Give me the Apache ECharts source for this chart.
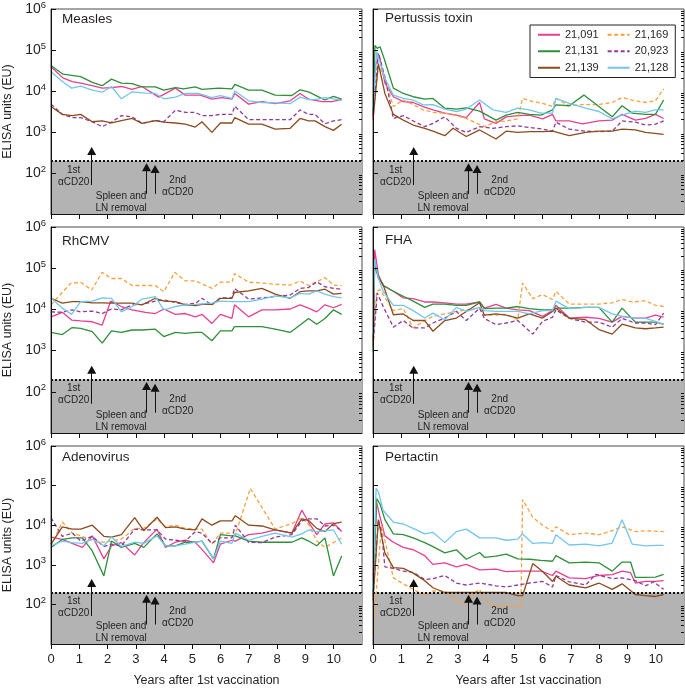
<!DOCTYPE html>
<html>
<head>
<meta charset="utf-8">
<script src="https://cdn.jsdelivr.net/npm/echarts@6/dist/echarts.min.js"></script>
<style>
  html, body { margin: 0; padding: 0; background: #fff; }
  #chart { width: 685px; height: 688px; }
</style>
</head>
<body>
<div id="chart"></div>
<script>
// donors, in legend order
const donors = ['21,091', '21,169', '21,131', '20,923', '21,139', '21,128'];
const donorColors = ['#e8408e', '#f5a342', '#2f8f3a', '#8e3b99', '#8b4b1f', '#72c6ee'];
const dashedDonors = ['21,169', '20,923'];

const panelNames = ['Measles', 'Pertussis toxin', 'RhCMV', 'FHA', 'Adenovirus', 'Pertactin'];
const yearTicks = [0, 1, 2, 3, 4, 5, 6, 7, 8, 9, 10];
const decadeTicks = [10, 100, 1000, 10000, 100000, 1000000];

// values: [years after 1st vaccination, log10 ELISA units]
const measles = {
  '21,091': [[0,4.59],[0.42,4.32],[0.75,4.23],[1.05,4.19],[1.46,4.13],[1.81,4.07],[2.14,4.08],[2.49,4.11],[2.87,4.04],[3.22,4.11],[3.81,3.85],[4.4,4.07],[4.75,3.9],[5.28,3.9],[5.69,3.8],[6.05,3.84],[6.4,3.8],[6.5,3.94],[6.99,3.68],[7.46,3.74],[7.93,3.69],[8.46,3.76],[8.81,3.94],[9.11,3.8],[9.58,3.74],[9.93,3.74],[10.28,3.79]],
  '21,131': [[0,4.62],[0.42,4.41],[1.05,4.35],[1.46,4.21],[1.81,4.13],[2.14,4.29],[2.49,4.19],[2.87,4.18],[3.22,4.1],[3.69,4.1],[3.99,4.02],[4.4,4.08],[4.69,4.05],[5.1,4.1],[5.34,4.04],[5.93,4.07],[6.4,4.05],[6.5,4.16],[6.99,4.02],[7.46,4.02],[7.93,3.9],[8.52,3.89],[8.81,4.03],[9.11,3.98],[9.34,3.9],[9.69,3.78],[9.99,3.87],[10.28,3.8]],
  '20,923': [[0,3.68],[0.4,3.43],[0.75,3.35],[1.05,3.35],[1.46,3.25],[1.81,3.13],[2.14,3.24],[2.49,3.4],[2.87,3.37],[3.22,3.21],[3.69,3.28],[3.99,3.25],[4.4,3.53],[4.75,3.48],[5.1,3.48],[5.34,3.4],[5.69,3.4],[5.99,3.43],[6.4,3.43],[6.5,3.63],[6.99,3.3],[7.46,3.3],[7.93,3.3],[8.46,3.3],[8.81,3.54],[9.11,3.43],[9.34,3.43],[9.69,3.2],[9.99,3.27],[10.28,3.3]],
  '21,139': [[0,3.62],[0.4,3.43],[0.75,3.4],[1.05,3.43],[1.46,3.25],[1.81,3.27],[2.14,3.22],[2.49,3.28],[2.87,3.33],[3.22,3.21],[3.69,3.28],[3.99,3.24],[4.4,3.22],[4.75,3.19],[5.1,3.12],[5.34,3.25],[5.69,2.99],[5.99,3.22],[6.4,3.22],[6.5,3.35],[6.99,3.19],[7.46,3.19],[7.93,3.07],[8.46,3.09],[8.81,3.33],[9.11,3.27],[9.34,3.27],[9.69,3.13],[9.99,3.04],[10.28,3.19]],
  '21,128': [[0,4.47],[0.4,4.23],[0.73,4.07],[1.05,4.12],[1.46,4.02],[1.81,3.97],[2.14,4.11],[2.49,3.81],[2.87,3.98],[3.34,3.95],[3.69,3.94],[3.99,3.81],[4.4,3.85],[4.75,3.94],[5.22,3.94],[5.69,3.84],[5.99,3.89],[6.4,3.82],[6.5,4.0],[6.99,3.76],[7.46,3.72],[7.93,3.71],[8.46,3.69],[8.81,3.85],[9.11,3.79],[9.34,3.79],[9.69,3.84],[9.99,3.81],[10.28,3.77]]
};

const pertussisToxin = {
  '21,091': [[0,3.4],[0.07,4.6],[0.22,4.88],[0.42,4.2],[0.72,3.86],[1.07,3.74],[1.42,3.72],[1.77,3.62],[2.12,3.54],[2.54,3.46],[2.95,3.41],[3.3,3.35],[3.77,3.72],[3.94,3.32],[4.35,3.21],[4.71,3.37],[5.12,3.4],[5.53,3.41],[6.0,3.32],[6.35,3.43],[6.47,3.27],[6.94,3.27],[7.41,3.2],[7.99,3.27],[8.46,3.29],[8.81,3.43],[9.28,3.29],[9.64,3.33],[9.99,3.43],[10.28,3.33]],
  '21,169': [[0,3.3],[0.19,4.63],[0.42,4.31],[0.72,3.62],[1.07,3.78],[1.42,3.67],[1.77,3.54],[2.12,3.48],[2.54,3.46],[2.95,3.4],[3.3,3.33],[3.94,3.13],[4.35,3.25],[4.71,3.27],[5.12,3.32],[5.29,3.82],[5.65,3.74],[6.0,3.7],[6.35,3.62],[6.47,3.82],[6.94,3.64],[7.41,3.67],[7.99,3.67],[8.46,3.72],[8.81,3.84],[9.17,3.78],[9.64,3.72],[9.99,3.76],[10.28,4.05]],
  '21,131': [[0,3.5],[0.07,5.11],[0.15,5.04],[0.25,5.08],[0.39,4.8],[0.72,4.07],[1.07,3.94],[1.42,3.86],[1.83,3.8],[2.12,3.82],[2.54,3.58],[2.95,3.56],[3.3,3.59],[3.77,3.51],[4.35,3.29],[4.71,3.41],[5.12,3.48],[5.53,3.43],[5.94,3.41],[6.35,3.54],[6.47,3.66],[6.94,3.64],[7.46,3.9],[7.99,3.62],[8.46,3.37],[8.81,3.64],[9.17,3.46],[9.64,3.43],[9.99,3.43],[10.28,3.78]],
  '20,923': [[0,3.4],[0.19,4.92],[0.42,4.35],[0.72,3.33],[1.07,3.4],[1.42,3.27],[1.83,3.13],[2.12,3.21],[2.54,3.37],[2.95,3.09],[3.3,2.99],[3.77,3.13],[4.24,3.09],[4.71,3.13],[5.12,3.15],[5.53,3.11],[6.0,3.07],[6.35,3.02],[6.47,3.24],[6.94,3.07],[7.52,3.02],[7.99,3.01],[8.46,3.02],[8.81,3.27],[9.28,3.24],[9.64,3.17],[9.99,3.19],[10.28,3.27]],
  '21,139': [[0,3.3],[0.19,4.67],[0.42,3.94],[0.72,3.43],[1.07,3.29],[1.42,3.17],[1.83,3.09],[2.12,3.02],[2.54,2.91],[2.83,3.09],[3.3,2.89],[3.77,3.05],[4.35,2.83],[4.71,3.02],[5.12,2.99],[5.53,3.01],[6.0,3.01],[6.35,3.02],[6.94,2.91],[7.52,2.99],[7.99,3.02],[8.46,3.02],[8.81,3.07],[9.28,3.05],[9.64,2.99],[10.28,2.94]],
  '21,128': [[0,3.6],[0.13,4.96],[0.42,4.31],[0.72,3.9],[1.07,3.82],[1.42,3.78],[1.77,3.66],[2.12,3.67],[2.54,3.56],[2.95,3.5],[3.3,3.56],[3.77,3.78],[4.24,3.54],[4.71,3.48],[5.12,3.58],[5.53,3.54],[5.94,3.46],[6.35,3.46],[6.47,3.82],[6.94,3.7],[7.52,3.58],[7.99,3.5],[8.46,3.32],[8.81,3.41],[9.28,3.51],[9.64,3.48],[9.99,3.54],[10.28,3.54]]
};

const rhcmv = {
  '21,091': [[0,3.82],[0.4,3.93],[0.73,3.74],[1.05,3.72],[1.46,3.7],[1.81,3.62],[2.11,4.2],[2.49,4.07],[2.87,3.99],[3.34,3.93],[3.69,3.9],[3.99,4.01],[4.4,3.88],[4.75,3.9],[5.11,3.82],[5.34,3.88],[5.69,3.66],[5.99,3.88],[6.4,3.78],[6.49,4.11],[6.99,3.82],[7.46,3.99],[7.93,3.99],[8.46,4.01],[8.81,4.11],[9.11,4.03],[9.4,3.94],[9.69,4.11],[9.99,4.04],[10.28,4.12]],
  '21,169': [[0,4.11],[0.69,4.63],[1.05,4.66],[1.44,4.47],[1.81,4.9],[2.14,4.75],[2.49,4.75],[2.87,4.58],[3.34,4.58],[3.69,4.58],[3.99,4.43],[4.38,4.9],[4.75,4.69],[5.11,4.69],[5.69,4.51],[5.99,4.66],[6.4,4.66],[6.49,4.87],[6.99,4.66],[7.46,4.64],[7.93,4.61],[8.46,4.59],[8.81,4.69],[9.11,4.58],[9.4,4.67],[9.69,4.77],[9.99,4.59],[10.28,4.58]],
  '21,131': [[0,3.44],[0.4,3.39],[0.75,3.56],[1.05,3.54],[1.46,3.46],[1.81,3.18],[2.14,3.48],[2.49,3.44],[2.87,3.5],[3.22,3.5],[3.69,3.52],[3.99,3.34],[4.4,3.44],[4.75,3.42],[5.11,3.44],[5.34,3.44],[5.69,3.24],[5.99,3.48],[6.4,3.48],[6.49,3.58],[6.99,3.58],[7.46,3.58],[7.93,3.52],[8.46,3.44],[8.81,3.62],[9.11,3.78],[9.4,3.64],[9.69,3.78],[9.99,3.99],[10.28,3.88]],
  '20,923': [[0,3.94],[0.4,3.93],[0.75,3.99],[1.05,3.94],[1.46,3.96],[1.81,3.9],[2.14,4.01],[2.49,3.99],[2.87,4.11],[3.22,4.12],[3.69,4.2],[3.99,4.23],[4.4,4.17],[4.75,4.12],[5.11,4.15],[5.34,4.27],[5.69,4.11],[5.99,4.28],[6.4,4.28],[6.49,4.51],[6.99,4.25],[7.46,4.28],[7.93,4.31],[8.46,4.35],[8.81,4.51],[9.11,4.53],[9.4,4.67],[9.69,4.55],[9.99,4.51],[10.28,4.49]],
  '21,139': [[0,4.27],[0.4,4.15],[0.75,4.19],[1.05,4.19],[1.46,4.16],[1.81,4.16],[2.14,4.15],[2.49,4.15],[2.87,4.15],[3.22,4.11],[3.69,4.27],[3.99,4.2],[4.4,4.19],[4.75,4.11],[5.11,4.09],[5.34,4.12],[5.69,4.12],[5.99,4.27],[6.4,4.27],[6.49,4.41],[6.99,4.45],[7.46,4.51],[7.93,4.37],[8.46,4.27],[8.81,4.43],[9.11,4.45],[9.4,4.45],[9.69,4.49],[9.99,4.37],[10.28,4.39]],
  '21,128': [[0,4.28],[0.4,4.03],[0.73,3.88],[1.05,4.19],[1.46,4.2],[1.81,4.28],[2.14,4.27],[2.49,3.94],[2.87,4.07],[3.22,4.25],[3.69,4.31],[3.99,3.99],[4.4,4.07],[4.75,4.11],[5.11,4.12],[5.69,4.15],[5.99,4.2],[6.4,4.19],[6.99,4.19],[7.46,4.25],[7.93,4.33],[8.46,4.28],[8.81,4.39],[9.11,4.37],[9.4,4.45],[9.69,4.37],[9.99,4.31],[10.28,4.28]]
};

const fha = {
  '21,091': [[0,3.3],[0.06,5.45],[0.19,4.84],[0.36,4.58],[0.72,4.44],[1.07,4.28],[1.42,4.26],[1.83,4.18],[2.12,4.18],[2.54,4.16],[2.95,4.13],[3.3,4.13],[3.77,4.18],[3.94,4.03],[4.35,4.12],[4.71,4.03],[5.12,3.99],[5.53,3.97],[6.0,3.83],[6.35,3.97],[6.47,4.1],[6.94,3.79],[7.52,3.81],[7.99,3.78],[8.46,3.69],[8.81,3.83],[9.28,3.79],[9.64,3.79],[9.99,3.86],[10.28,3.81]],
  '21,169': [[0,3.2],[0.13,4.44],[0.25,4.48],[0.36,4.36],[0.72,3.97],[1.07,4.02],[1.42,3.55],[1.83,3.73],[2.12,3.83],[2.54,3.89],[2.95,3.95],[3.3,3.99],[3.77,4.03],[3.94,3.86],[4.35,3.86],[4.71,3.88],[5.12,3.75],[5.29,4.64],[5.65,4.26],[6.0,4.36],[6.35,4.24],[6.47,4.44],[6.94,4.13],[7.52,4.13],[7.99,4.13],[8.46,4.16],[8.81,4.24],[9.17,4.18],[9.64,4.21],[9.99,4.1],[10.28,4.07]],
  '21,131': [[0,2.97],[0.06,5.17],[0.19,4.8],[0.36,4.58],[0.72,4.44],[1.07,4.32],[1.42,4.2],[1.83,4.05],[2.12,4.13],[2.54,4.13],[2.95,4.1],[3.3,4.1],[3.77,4.18],[3.94,4.02],[4.35,4.03],[4.71,4.03],[5.12,4.07],[5.53,4.02],[6.0,3.99],[6.35,3.99],[6.47,4.03],[6.94,4.03],[7.52,4.05],[7.99,4.05],[8.46,3.69],[8.81,4.03],[9.28,3.69],[9.64,3.69],[9.99,3.69],[10.28,3.64]],
  '20,923': [[0,3.1],[0.15,4.4],[0.36,4.07],[0.72,3.57],[1.07,3.73],[1.42,3.55],[1.83,3.55],[2.12,3.67],[2.54,3.79],[2.95,3.95],[3.3,3.73],[3.77,4.03],[3.94,3.78],[4.35,3.63],[4.71,3.67],[5.12,3.73],[5.65,3.4],[6.0,3.71],[6.35,3.81],[6.47,3.99],[6.94,3.78],[7.52,3.69],[7.99,3.69],[8.46,3.57],[8.81,3.78],[9.28,3.67],[9.64,3.67],[9.99,3.63],[10.28,3.91]],
  '21,139': [[0,3.2],[0.06,5.09],[0.19,4.76],[0.36,4.6],[0.72,3.87],[1.07,3.89],[1.42,3.73],[1.83,3.73],[2.12,3.47],[2.54,3.73],[2.95,3.79],[3.3,3.95],[3.77,4.16],[3.94,3.86],[4.35,3.89],[4.71,3.86],[5.12,3.79],[5.53,3.89],[6.0,3.79],[6.35,3.95],[6.47,4.03],[6.94,3.79],[7.52,3.75],[7.99,3.51],[8.46,3.4],[8.81,3.64],[9.28,3.55],[9.64,3.53],[9.99,3.55],[10.28,3.57]],
  '21,128': [[0,3.4],[0.06,5.21],[0.19,4.76],[0.36,4.44],[0.72,4.1],[1.07,4.1],[1.42,3.97],[1.83,3.79],[2.12,3.91],[2.54,3.75],[2.95,4.05],[3.3,3.95],[3.77,4.05],[3.94,3.97],[4.35,3.95],[4.71,3.95],[5.12,3.95],[5.53,3.89],[6.0,3.97],[6.35,3.97],[6.47,4.2],[6.94,4.02],[7.52,4.05],[7.99,4.05],[8.46,3.89],[8.81,3.83],[9.28,3.79],[9.64,3.78],[9.99,3.71],[10.28,3.63]]
};

const adenovirus = {
  '21,091': [[0,3.7],[0.4,3.64],[0.75,3.54],[1.11,3.44],[1.46,3.73],[1.87,3.15],[2.14,3.48],[2.49,3.56],[2.96,3.25],[3.28,3.56],[3.75,3.9],[4.05,3.44],[4.4,3.57],[4.75,3.62],[5.11,3.56],[5.34,3.39],[5.75,3.05],[5.99,3.52],[6.4,3.62],[6.52,3.6],[6.99,3.76],[7.46,3.8],[7.93,3.88],[8.52,3.8],[8.87,4.38],[9.11,4.08],[9.4,3.76],[9.69,4.03],[9.99,4.06],[10.28,3.84]],
  '21,169': [[0,3.48],[0.4,4.08],[0.75,3.8],[1.05,3.73],[1.46,3.62],[1.87,3.57],[2.14,3.6],[2.49,3.65],[2.96,3.92],[3.28,3.92],[3.75,4.16],[4.05,3.96],[4.4,4.0],[4.75,3.92],[5.11,3.9],[5.34,3.9],[5.69,3.52],[5.99,3.8],[6.4,3.8],[6.52,3.76],[7.05,4.93],[7.46,4.45],[7.93,3.9],[8.52,4.04],[8.87,4.19],[9.11,4.02],[9.4,3.6],[9.69,3.44],[9.99,3.56],[10.28,3.68]],
  '21,131': [[0,3.44],[0.4,3.64],[0.75,3.68],[1.11,3.68],[1.46,3.35],[1.87,2.72],[2.14,3.6],[2.49,3.44],[2.96,3.54],[3.28,3.44],[3.75,3.78],[4.05,3.48],[4.4,3.48],[4.75,3.57],[5.11,3.57],[5.34,3.6],[5.75,3.15],[5.99,3.76],[6.4,3.73],[6.52,3.73],[6.99,3.6],[7.46,3.57],[7.93,3.57],[8.52,3.57],[8.87,3.68],[9.11,3.6],[9.4,3.48],[9.69,3.68],[9.99,2.72],[10.28,3.22]],
  '20,923': [[0,4.19],[0.4,3.72],[0.75,3.8],[1.05,3.6],[1.46,3.72],[1.87,3.46],[2.14,3.52],[2.49,3.48],[2.96,3.9],[3.28,3.88],[3.75,3.88],[4.05,3.65],[4.4,3.62],[4.75,3.6],[5.11,3.84],[5.34,3.8],[5.69,3.54],[5.99,3.68],[6.4,3.68],[6.52,4.0],[6.99,3.57],[7.46,3.56],[7.93,3.7],[8.52,3.76],[8.87,4.11],[9.11,4.16],[9.4,4.16],[9.69,3.98],[9.99,4.0],[10.28,3.86]],
  '21,139': [[0,3.52],[0.4,3.96],[0.75,3.9],[1.05,3.9],[1.46,4.0],[1.87,3.72],[2.14,3.7],[2.49,3.76],[2.96,4.19],[3.28,3.86],[3.75,4.2],[4.05,3.94],[4.4,3.96],[4.75,3.9],[5.11,3.88],[5.34,4.16],[5.69,4.0],[5.99,4.11],[6.4,4.11],[6.52,4.24],[6.99,4.0],[7.46,3.98],[7.93,3.88],[8.52,3.8],[8.87,4.16],[9.11,4.12],[9.4,3.92],[9.69,3.84],[9.99,4.04],[10.28,4.08]],
  '21,128': [[0,3.48],[0.4,3.6],[0.75,3.56],[1.11,3.54],[1.46,3.65],[1.87,3.48],[2.14,3.7],[2.49,3.46],[2.96,3.57],[3.28,3.54],[3.75,3.73],[4.05,3.48],[4.4,3.48],[4.75,3.52],[5.11,3.57],[5.34,3.6],[5.75,3.14],[5.99,3.6],[6.4,3.54],[6.52,3.8],[6.99,3.62],[7.46,3.72],[7.93,3.8],[8.52,3.7],[8.87,3.78],[9.11,3.88],[9.4,3.84],[9.69,3.86],[9.99,3.88],[10.28,3.52]]
};

const pertactin = {
  '21,091': [[0,2.6],[0.13,4.57],[0.25,4.2],[0.42,3.73],[0.72,3.57],[1.07,3.44],[1.42,3.38],[1.83,3.23],[2.12,3.01],[2.54,3.05],[2.95,2.95],[3.3,3.01],[3.77,2.87],[4.35,2.89],[4.71,2.83],[5.12,2.84],[5.53,2.84],[5.94,2.84],[6.35,2.73],[6.47,2.84],[6.94,2.67],[7.52,2.65],[7.99,2.73],[8.46,2.75],[8.81,2.84],[9.11,2.8],[9.28,2.54],[9.64,2.58],[9.99,2.58],[10.28,2.6]],
  '21,169': [[0,1.25],[0.3,4.0],[0.72,2.67],[1.07,2.52],[1.42,2.38],[1.83,2.22],[2.12,2.34],[2.54,2.33],[2.95,2.08],[3.3,2.02],[3.53,2.26],[3.77,2.38],[3.94,2.1],[4.35,1.95],[4.71,1.98],[5.12,1.94],[5.23,1.9],[5.29,4.65],[5.65,4.2],[6.0,4.0],[6.35,3.84],[6.47,3.96],[6.94,3.76],[7.52,3.8],[7.99,3.76],[8.46,3.86],[8.81,3.96],[9.28,3.84],[9.64,3.86],[10.28,3.84]],
  '21,131': [[0,2.3],[0.13,4.67],[0.25,4.53],[0.42,4.14],[0.72,3.78],[1.07,3.76],[1.42,3.68],[1.83,3.56],[2.12,3.46],[2.54,3.3],[2.95,3.38],[3.3,3.14],[3.77,3.31],[3.94,3.19],[4.35,3.22],[4.71,3.27],[5.12,3.15],[5.53,3.14],[5.94,3.11],[6.35,3.09],[6.47,3.23],[6.94,3.05],[7.52,3.07],[7.99,3.05],[8.46,2.84],[8.81,3.07],[9.11,3.07],[9.28,2.68],[9.64,2.68],[9.99,2.69],[10.28,2.76]],
  '20,923': [[0,2.2],[0.19,4.14],[0.31,3.8],[0.42,2.95],[0.72,2.91],[1.07,2.84],[1.42,2.81],[1.83,2.63],[2.12,2.65],[2.54,2.73],[2.95,2.54],[3.3,2.49],[3.77,2.54],[4.35,2.47],[4.71,2.44],[5.12,2.49],[5.53,2.54],[6.0,2.58],[6.35,2.44],[6.47,2.73],[6.94,2.57],[7.52,2.49],[7.88,2.76],[8.46,2.65],[8.81,2.67],[9.28,2.6],[9.64,2.47],[9.93,2.57],[10.28,2.38]],
  '21,139': [[0,2.1],[0.19,4.14],[0.42,3.3],[0.72,2.93],[1.07,2.91],[1.42,2.79],[1.83,2.6],[2.12,2.42],[2.54,2.3],[2.95,2.3],[3.3,2.3],[3.77,2.3],[4.35,2.3],[4.71,2.3],[5.12,2.22],[5.29,2.22],[5.65,3.03],[6.0,2.83],[6.35,2.58],[6.47,2.71],[6.94,2.49],[7.52,2.42],[7.99,2.54],[8.46,2.38],[8.81,2.52],[9.28,2.25],[9.64,2.22],[9.99,2.2],[10.28,2.25]],
  '21,128': [[0,2.4],[0.11,4.93],[0.19,4.85],[0.36,4.37],[0.72,4.08],[1.07,4.03],[1.42,3.92],[1.83,3.78],[2.12,3.82],[2.54,3.56],[2.95,3.84],[3.3,3.9],[3.77,3.68],[4.35,3.68],[4.71,3.62],[5.12,3.65],[5.29,3.78],[5.65,3.54],[6.0,3.56],[6.35,3.54],[6.47,3.76],[6.94,3.5],[7.52,3.52],[7.99,3.48],[8.46,3.55],[8.81,4.14],[9.17,3.52],[9.64,3.48],[9.99,3.49],[10.28,3.49]]
};

const panelData = [measles, pertussisToxin, rhcmv, fha, adenovirus, pertactin];

// annotation arrows [years, from EU, to EU] and notes [text, years, EU]
const arrows = [[1.44, 51, 345], [3.38, 31, 138], [3.68, 31, 126]];
const notes = [['1st\nαCD20', 0.8, 85], ['Spleen and\nLN removal', 2.48, 19.5], ['2nd\nαCD20', 4.48, 48]];
const limitOfDetection = 200;

const FONT = '"Liberation Sans", Arial, Helvetica, sans-serif';
const INK = '#231f20';

// panel boxes: left, top, width, height
const boxes = [[50, 9, 312, 205], [373, 9, 311, 205], [50, 227, 312, 206], [373, 227, 311, 206], [50, 446, 312, 206], [373, 446, 311, 206]];
const titlePos = [[62, 12], [385, 11], [62, 234], [385, 233], [62, 450], [385, 450]];

const minorTicks = [];
for (let d = 10; d < 1e6; d *= 10) for (let k = 2; k <= 9; k++) minorTicks.push(k * d);

const toEU = pts => pts.map(([t, lg]) => [t, Math.pow(10, lg)]);

const grids = [], xAxes = [], yAxes = [], minorAxes = [], titles = [], series = [];

boxes.forEach((b, i) => {
  const isLeft = i % 2 === 0;
  const isBottom = i >= 4;
  grids.push({ left: b[0], top: b[1], width: b[2], height: b[3], show: true, borderColor: '#4a4a4a', borderWidth: 1, backgroundColor: '#fff' });
  titles.push({ text: panelNames[i], left: titlePos[i][0], top: titlePos[i][1], padding: 0,
    textStyle: { fontFamily: FONT, fontSize: 13.5, fontWeight: 'normal', color: INK } });
  xAxes.push({
    gridIndex: i, type: 'value', min: 0, max: 11, interval: 1, z: 6,
    name: isBottom ? 'Years after 1st vaccination' : '', nameLocation: 'middle', nameGap: 30,
    nameTextStyle: { fontFamily: FONT, fontSize: 12.5, color: INK },
    axisLine: { show: true, onZero: false, lineStyle: { color: '#111', width: 1 } },
    axisTick: { show: true, inside: false, length: 5, customValues: yearTicks, lineStyle: { color: '#111' } },
    axisLabel: { show: isBottom, customValues: yearTicks, margin: 9, fontFamily: FONT, fontSize: 13, color: INK },
    splitLine: { show: false }
  });
  yAxes.push({
    gridIndex: i, type: 'log', logBase: 10, min: 10, max: 1e6, z: 6,
    name: isLeft ? 'ELISA units (EU)' : '', nameLocation: 'middle', nameGap: 37, nameRotate: 90,
    nameTextStyle: { fontFamily: FONT, fontSize: 12.5, color: INK },
    axisLine: { show: true, lineStyle: { color: '#111', width: 1 } },
    axisTick: { show: true, inside: true, length: 5, customValues: decadeTicks, lineStyle: { color: '#111' } },
    axisLabel: {
      show: isLeft, customValues: decadeTicks.slice(1), margin: 5,
      formatter: v => '{b|10}{s|' + Math.round(Math.log10(v)) + '}',
      rich: {
        b: { fontFamily: FONT, fontSize: 14, color: INK },
        s: { fontFamily: FONT, fontSize: 9.5, color: INK, padding: [0, 0, 8, 0] }
      }
    },
    splitLine: { show: false }
  });
  minorAxes.push({
    gridIndex: i, type: 'log', logBase: 10, min: 10, max: 1e6, z: 6,
    axisLine: { show: false },
    axisTick: { show: true, inside: true, length: 3, customValues: minorTicks, lineStyle: { color: '#111' } },
    axisLabel: { show: false },
    splitLine: { show: false }
  });

  let first = true;
  donors.forEach((d, k) => {
    const pts = panelData[i][d];
    if (!pts) return;
    const s = {
      name: d, type: 'line', xAxisIndex: i, yAxisIndex: i, data: toEU(pts),
      symbol: 'none', showSymbol: false, z: 3,
      lineStyle: { color: donorColors[k], width: 1.3, type: dashedDonors.includes(d) ? [4, 2.5] : 'solid' },
      itemStyle: { color: donorColors[k] }
    };
    if (first) {
      first = false;
      s.markArea = { silent: true, itemStyle: { color: '#b3b3b3' }, data: [[{ yAxis: 10 }, { yAxis: limitOfDetection }]] };
      s.markLine = {
        silent: true, symbol: 'none', label: { show: false },
        data: [{ yAxis: limitOfDetection, lineStyle: { type: [2, 2], width: 2, color: '#111' } }].concat(
          arrows.map(a => [
            { coord: [a[0], a[1]], symbol: 'none', lineStyle: { type: 'solid', width: 1, color: '#111' } },
            { coord: [a[0], a[2]], symbol: 'triangle', symbolSize: [9, 8] }
          ]))
      };
      s.markPoint = {
        silent: true, symbol: 'circle', symbolSize: 1, itemStyle: { color: 'rgba(0,0,0,0)' },
        label: { show: true, position: 'inside', formatter: p => p.name, fontFamily: FONT, fontSize: 10, lineHeight: 12, color: INK, align: 'center' },
        data: notes.map(n => ({ name: n[0], coord: [n[1], n[2]] }))
      };
    }
    series.push(s);
  });
});

const chart = echarts.init(document.getElementById('chart'));
chart.setOption({
  animation: false,
  backgroundColor: '#fff',
  title: titles,
  legend: {
    data: donors, left: 530, top: 25, width: 150, orient: 'horizontal',
    itemWidth: 22, itemHeight: 10, itemGap: 3, padding: [3, 2, 3, 7],
    borderColor: '#222', borderWidth: 1, backgroundColor: '#fff',
    itemStyle: { opacity: 0 },
    textStyle: { fontFamily: FONT, fontSize: 11, lineHeight: 13.5, color: INK, padding: [0, 5, 0, 0] }
  },
  grid: grids,
  xAxis: xAxes,
  yAxis: yAxes.concat(minorAxes),
  series: series
});
</script>
</body>
</html>
